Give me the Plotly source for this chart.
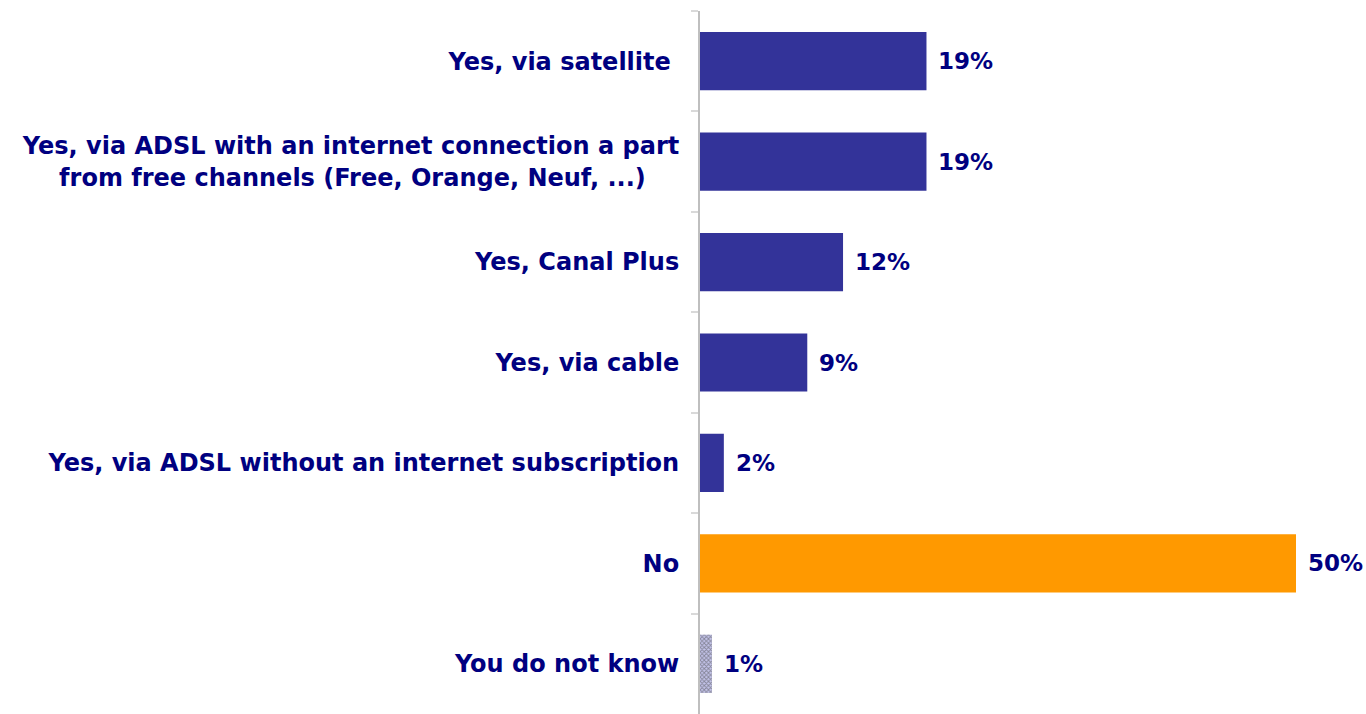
import plotly.graph_objects as go

categories = [
    "Yes, via satellite ",
    "Yes, via ADSL with an internet connection a part<br>from free channels (Free, Orange, Neuf, ...)&nbsp;&nbsp;&nbsp;&nbsp;",
    "Yes, Canal Plus",
    "Yes, via cable",
    "Yes, via ADSL without an internet subscription",
    "No",
    "You do not know",
]
values = [19, 19, 12, 9, 2, 50, 1]
labels = ["19%", "19%", "12%", "9%", "2%", "50%", "1%"]

navy = "#333399"
text_navy = "#000080"
bar_colors = [navy, navy, navy, navy, navy, "#FF9900", "#C4C4EA"]
pattern_shapes = ["", "", "", "", "", "", "x"]
font_family = "DejaVu Sans, Arial, sans-serif"

fig = go.Figure(
    go.Bar(
        x=values,
        y=categories,
        orientation="h",
        marker=dict(
            color=bar_colors,
            line=dict(width=0),
            pattern=dict(shape=pattern_shapes, fgcolor=navy, size=3, solidity=0.5),
        ),
        width=0.58,
        hoverinfo="x+y",
    )
)

# value labels to the right of each bar
for cat, val, lab in zip(categories, values, labels):
    fig.add_annotation(
        x=val,
        y=cat,
        text=lab,
        showarrow=False,
        xanchor="left",
        xshift=10,
        font=dict(family=font_family, size=23, color=text_navy, weight="bold"),
    )

fig.update_layout(
    width=1366,
    height=714,
    margin=dict(l=700, r=70, t=11, b=0),
    paper_bgcolor="white",
    plot_bgcolor="white",
    showlegend=False,
    font=dict(family=font_family, size=24, color=text_navy),
)

fig.update_xaxes(
    range=[0, 50],
    visible=False,
    showgrid=False,
    zeroline=False,
)

fig.update_yaxes(
    autorange="reversed",
    showline=True,
    linecolor="#BFBFBF",
    linewidth=2,
    ticks="outside",
    tickson="boundaries",
    ticklen=7,
    tickcolor="#D9D9D9",
    tickwidth=2,
    showgrid=False,
    ticklabelstandoff=14,
    tickfont=dict(family=font_family, size=24, color=text_navy, weight="bold"),
)

fig.write_html("out.html")
